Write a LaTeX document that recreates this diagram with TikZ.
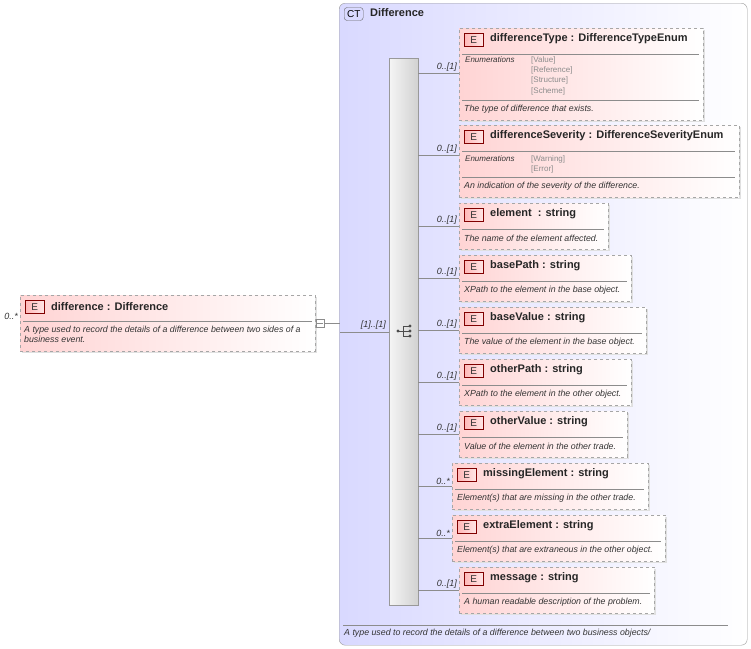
\documentclass[tikz,border=0pt]{standalone}
\usepackage{fontspec}
\setmainfont{Liberation Sans}
\begin{document}
\begin{tikzpicture}[x=1pt,y=-1pt,
  ebox/.style={draw=black!35,dashed,left color=red!17,right color=white,anchor=north west,inner sep=0pt},
  shad/.style={fill=black!12,draw=none,anchor=north west,inner sep=0pt},
  badge/.style={draw=red!50!black,left color=red!28,right color=red!10,minimum width=19pt,minimum height=13pt,inner sep=0pt,font=\fontsize{10}{10}\selectfont,anchor=west,text=black!80},
  ttl/.style={font=\bfseries\fontsize{11}{12}\selectfont,anchor=west,inner sep=0pt,text=black!85},
  dsc/.style={font=\itshape\fontsize{8.8}{10}\selectfont,anchor=west,inner sep=0pt,text=black!80},
  enm/.style={font=\fontsize{8}{9}\selectfont,anchor=west,inner sep=0pt,text=black!45},
  mul/.style={font=\itshape\fontsize{9}{10}\selectfont,anchor=south east,inner sep=1pt,text=black!80},
  sep/.style={draw=black!45,line width=0.5pt},
  con/.style={draw=black!45,line width=0.5pt}]
\useasboundingbox (0,0) rectangle (751,648);
% CT box
\node[draw=black!40,rounded corners=6pt,left color=blue!15,right color=white,minimum width=408pt,minimum height=642pt,anchor=north west,inner sep=0pt] (ct) at (339,3) {};
\node[draw=black!60,rounded corners=3pt,fill=blue!15,minimum width=19pt,minimum height=13pt,inner sep=0pt,font=\fontsize{10}{10}\selectfont,anchor=west] (ctb) at (344,14) {CT};
\node[ttl] (ctt) at (370,13) {Difference};
\draw[sep] (343,625) -- (728,625);
\node[dsc] (ctd) at (344,633) {A type used to record the details of a difference between two business objects/};
% sequence bar
\node[draw=black!40,left color=black!4,right color=black!18,minimum width=29pt,minimum height=547pt,anchor=north west,inner sep=0pt] (bar) at (389,58) {};
\begin{scope}[black!70]
\fill (398,331) circle (1.6pt);
\draw (399,331) -- (403,331);
\draw (403,326) -- (403,336);
\draw (403,326) -- (410,326) (403,331) -- (410,331) (403,336) -- (410,336);
\fill (410,326) circle (1.6pt) (410,331) circle (1.6pt) (410,336) circle (1.6pt);
\end{scope}
% root element
\node[shad,minimum width=295pt,minimum height=56pt] at (22,297) {};
\node[ebox,minimum width=295pt,minimum height=56pt] (root) at (20,295) {};
\node[badge] (rb) at (25,307) {E};
\node[ttl] (rt) at (51,307) {difference : Difference};
\draw[sep] (23,321) -- (312,321);
\node[dsc,align=left] (rd) at (24,334) {A type used to record the details of a difference between two sides of a\\business event.};
\node[mul] (rm) at (19,321) {0..*};
\node[draw=black!45,fill=white,minimum size=8pt,inner sep=0pt] (sq) at (320,323) {};
\draw[black!45] (317,323) -- (323,323);
\coordinate (j) at (340,323);
\draw[con] (sq.east) -- (j);
\draw[con] (340,332) -- (bar.west |- 0,332);
\node[mul] (sm) at (387,331) {[1]..[1]};
% element macro
\newcommand\Elm[9]{%
  \node[shad,minimum width={#4-#2},minimum height={#5-#3}] at ({#2+2},{#3+2}) {};
  \node[ebox,minimum width={#4-#2},minimum height={#5-#3}] (#1) at (#2,#3) {};
  \node[badge] (#1b) at ({#2+5},{#3+12}) {E};
  \node[ttl] (#1t) at ({#2+31},{#3+11}) {#6};
  \draw[sep] ({#2+3},{#3+26}) -- ({#4-4},{#3+26});
  \node[dsc] (#1d) at ({#2+5},{#5-11}) {#7};
  \coordinate (#1c) at (#2,#9);
  \draw[con] (bar.east |- #1c) -- (#1c);
  \node[mul] (#1m) at ({#2-1},#9) {#8};
}
\Elm{dt}{459}{28}{703}{120}{differenceType : DifferenceTypeEnum}{The type of difference that exists.}{0..[1]}{73}
\node[dsc,font=\itshape\fontsize{8}{9}\selectfont] (dte) at (465,60) {Enumerations};
\node[enm] at (531,60) {[Value]};
\node[enm] at (531,70) {[Reference]};
\node[enm] at (531,80) {[Structure]};
\node[enm] at (531,91) {[Scheme]};
\draw[sep] (462,100) -- (699,100);
\Elm{ds}{459}{125}{739}{197}{differenceSeverity : DifferenceSeverityEnum}{An indication of the severity of the difference.}{0..[1]}{155}
\node[dsc,font=\itshape\fontsize{8}{9}\selectfont] (dse) at (465,159) {Enumerations};
\node[enm] at (531,159) {[Warning]};
\node[enm] at (531,169) {[Error]};
\draw[sep] (462,177) -- (735,177);
\Elm{el}{459}{203}{608}{249}{element \ : string}{The name of the element affected.}{0..[1]}{226}
\Elm{bp}{459}{255}{631}{301}{basePath : string}{XPath to the element in the base object.}{0..[1]}{278}
\Elm{bv}{459}{307}{646}{353}{baseValue : string}{The value of the element in the base object.}{0..[1]}{330}
\Elm{op}{459}{359}{631}{405}{otherPath : string}{XPath to the element in the other object.}{0..[1]}{382}
\Elm{ov}{459}{411}{627}{457}{otherValue : string}{Value of the element in the other trade.}{0..[1]}{434}
\Elm{me}{452}{463}{648}{509}{missingElement : string}{Element(s) that are missing in the other trade.}{0..*}{486}
\Elm{ee}{452}{515}{665}{561}{extraElement : string}{Element(s) that are extraneous in the other object.}{0..*}{538}
\Elm{ms}{459}{567}{654}{613}{message : string}{A human readable description of the problem.}{0..[1]}{590}
\end{tikzpicture}
\end{document}
